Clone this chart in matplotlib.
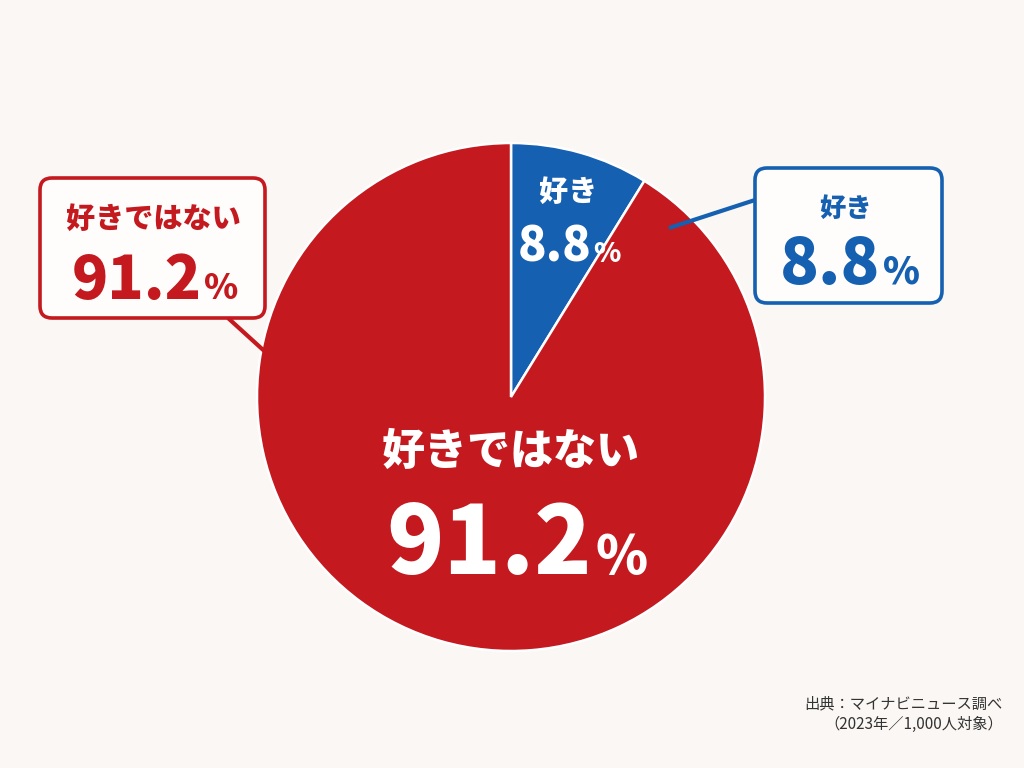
import matplotlib

matplotlib.use("Agg")
import matplotlib.pyplot as plt
from matplotlib.patches import FancyBboxPatch

plt.rcParams["font.family"] = ["Noto Sans CJK JP", "DejaVu Sans"]

BG = "#faf7f4"
RED = "#c3191f"
BLUE = "#1560b0"
BOX_FILL = "#fffdfb"

labels = ["好き", "好きではない"]
values = [8.8, 91.2]
colors = [BLUE, RED]
source_lines = ["出典：マイナビニュース調べ", "（2023年／1,000人対象）"]

W, H = 1024, 768
fig = plt.figure(figsize=(W / 100, H / 100), dpi=100, facecolor=BG)
ax = fig.add_axes([0, 0, 1, 1])
ax.set_facecolor(BG)

# pixel coordinates with y pointing down; in this frame counterclock=True
# with startangle=-90 runs clockwise from 12 o'clock on screen
cx, cy, r = 511, 397, 254
ax.pie(values, colors=colors, startangle=-90, counterclock=True,
       center=(cx, cy), radius=r,
       wedgeprops=dict(edgecolor="white", linewidth=1.8))
ax.set_xlim(0, W)
ax.set_ylim(H, 0)
ax.set_aspect("equal")
ax.axis("off")

renderer = fig.canvas.get_renderer()


def pct_label(x, y, value, color, num_size, pct_size):
    """Number + smaller % sign, centred on x, baseline at y."""
    num = ax.text(0, y, f"{value:.1f}", fontsize=num_size, color=color,
                  fontweight="heavy", ha="left", va="baseline", zorder=4)
    pct = ax.text(0, y, "%", fontsize=pct_size, color=color,
                  fontweight="heavy", ha="left", va="baseline", zorder=4)
    wn = num.get_window_extent(renderer).width
    wp = pct.get_window_extent(renderer).width
    gap = num_size * 0.06
    x0 = x - (wn + gap + wp) / 2
    num.set_x(x0)
    pct.set_x(x0 + wn + gap)


def callout(x0, y0, x1, y1, color, line_from, line_to):
    box = FancyBboxPatch((x0, y0), x1 - x0, y1 - y0,
                         boxstyle="round,pad=0,rounding_size=12",
                         facecolor=BOX_FILL, edgecolor=color, linewidth=2.6,
                         zorder=3)
    ax.add_patch(box)
    ax.plot([line_from[0], line_to[0]], [line_from[1], line_to[1]],
            color=color, linewidth=3, solid_capstyle="butt", zorder=2)


# labels inside the pie
ax.text(568, 192, labels[0], fontsize=21, color="white", fontweight="heavy",
        ha="center", va="center")
pct_label(569, 262, values[0], "white", 34, 20)
ax.text(511, 452, labels[1], fontsize=31, color="white", fontweight="heavy",
        ha="center", va="center")
pct_label(517, 574, values[1], "white", 68, 38)

# callout boxes
callout(40, 178, 265, 318, RED, (228, 318), (272, 358))
ax.text(153, 219, labels[1], fontsize=21, color=RED, fontweight="heavy",
        ha="center", va="center", zorder=4)
pct_label(155, 299, values[1], RED, 43, 25)

callout(755, 168, 942, 303, BLUE, (755, 200), (669, 228))
ax.text(846, 209, labels[0], fontsize=19, color=BLUE, fontweight="heavy",
        ha="center", va="center", zorder=4)
pct_label(850, 284, values[0], BLUE, 46, 27)

for i, line in enumerate(source_lines):
    ax.text(1003, 704 + i * 20, line, fontsize=11, color="#333333",
            ha="right", va="center")

fig.savefig("out.png", dpi=100, facecolor=BG)
